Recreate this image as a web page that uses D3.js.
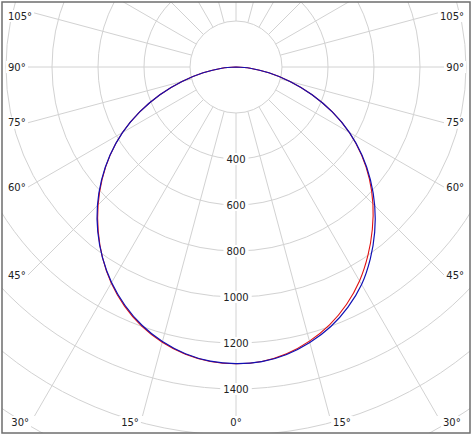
<!DOCTYPE html>
<html>
<head>
<meta charset="utf-8">
<script src="https://cdn.jsdelivr.net/npm/d3@7"></script>
<style>
  html, body { margin: 0; padding: 0; background: #fff; }
  svg { display: block; }
  text { font-family: "DejaVu Sans", Verdana, sans-serif; font-size: 10px; fill: #222; }
</style>
</head>
<body>
<svg id="chart" width="472" height="437"></svg>
<script>
// ---- data ----
const angles = [0, 5, 10, 15, 20, 25, 30, 35, 40, 45, 50, 55, 60, 65, 70, 75, 80, 85, 90];
const blueLeft  = [1290, 1284, 1266, 1236, 1195, 1143, 1082, 1012, 935, 852, 763, 669, 570, 462, 352, 243, 145, 62, 0];
const redLeft   = [1290, 1285, 1268, 1239, 1199, 1147, 1085, 1012, 932, 848, 760, 668, 570, 462, 352, 243, 145, 62, 0];
const blueRight = [1290, 1286, 1269, 1240, 1202, 1152, 1092, 1018, 938, 853, 763, 669, 570, 462, 352, 243, 145, 62, 0];
const redRight  = [1290, 1285, 1266, 1234, 1192, 1138, 1074, 1000, 922, 842, 757, 666, 569, 462, 352, 243, 145, 62, 0];
const ringValues = [200, 400, 600, 800, 1000, 1200, 1400, 1600, 1800, 2000];
const ringLabels = [400, 600, 800, 1000, 1200, 1400];
const spokeAngles = d3.range(0, 360, 15);
const angleLabels = [0, 15, 30, 45, 60, 75, 90, 105];

// ---- layout ----
const W = 472, H = 437;
const cx = 236, cy = 67;
const box = {x: 2, y: 2, w: 468, h: 431};
const spokeBox = {x0: 28, x1: 444, y0: 2, y1: 416};
const r = d3.scaleLinear().domain([0, 2000]).range([0, 460]);

const svg = d3.select("#chart");
const defs = svg.append("defs");
defs.append("clipPath").attr("id", "clipBox")
  .append("rect").attr("x", box.x).attr("y", box.y).attr("width", box.w).attr("height", box.h);
defs.append("clipPath").attr("id", "clipSpokes")
  .append("rect").attr("x", spokeBox.x0).attr("y", spokeBox.y0)
  .attr("width", spokeBox.x1 - spokeBox.x0).attr("height", spokeBox.y1 - spokeBox.y0);

const grid = svg.append("g").attr("clip-path", "url(#clipBox)");
const g = grid.append("g").attr("transform", `translate(${cx},${cy})`);

// rings
g.selectAll("circle.ring").data(ringValues).join("circle")
  .attr("class", "ring")
  .attr("r", d => r(d))
  .attr("fill", "none")
  .attr("stroke", "#d2d2d2")
  .attr("stroke-width", 1);

// spokes (angle measured from straight down)
const spokes = svg.append("g").attr("clip-path", "url(#clipSpokes)")
  .append("g").attr("transform", `translate(${cx},${cy})`);
spokes.selectAll("line").data(spokeAngles).join("line")
  .attr("x1", d => r(200) * Math.sin(d * Math.PI / 180))
  .attr("y1", d => r(200) * Math.cos(d * Math.PI / 180))
  .attr("x2", d => 900 * Math.sin(d * Math.PI / 180))
  .attr("y2", d => 900 * Math.cos(d * Math.PI / 180))
  .attr("stroke", "#d2d2d2")
  .attr("stroke-width", 1);

// ring labels along the 0° axis
const rl = svg.append("g");
ringLabels.forEach(v => {
  const y = cy + r(v);
  const t = rl.append("text").attr("x", cx).attr("y", y).attr("dy", "0.36em")
    .attr("text-anchor", "middle").text(v);
  const bb = t.node().getBBox();
  rl.insert("rect", "text").attr("x", bb.x - 3).attr("y", y - 6)
    .attr("width", bb.width + 6).attr("height", 12).attr("fill", "#fff");
});

// curves
const line = d3.lineRadial()
  .angle(d => d.a)
  .radius(d => r(d.v))
  .curve(d3.curveCatmullRom.alpha(0.5));

function buildCurve(left, right) {
  const pts = [];
  for (let i = angles.length - 1; i >= 0; i--) pts.push({a: Math.PI + angles[i] * Math.PI / 180, v: left[i]});
  for (let i = 1; i < angles.length; i++) pts.push({a: Math.PI - angles[i] * Math.PI / 180, v: right[i]});
  return pts;
}
const curves = svg.append("g").attr("transform", `translate(${cx},${cy})`);
curves.append("path").datum(buildCurve(redLeft, redRight))
  .attr("d", line).attr("fill", "none").attr("stroke", "#e01010").attr("stroke-width", 1.1);
curves.append("path").datum(buildCurve(blueLeft, blueRight))
  .attr("d", line).attr("fill", "none").attr("stroke", "#1010b4").attr("stroke-width", 1.2);

// angle labels
const al = svg.append("g");
function addLabel(x, y, anchor, txt) {
  const t = al.append("text").attr("x", x).attr("y", y).attr("dy", "0.36em")
    .attr("text-anchor", anchor).text(txt);
  const bb = t.node().getBBox();
  al.insert("rect", "text").attr("x", bb.x - 2).attr("y", y - 6)
    .attr("width", bb.width + 4).attr("height", 12).attr("fill", "#fff");
}
angleLabels.forEach(a => {
  const rad = a * Math.PI / 180;
  [-1, 1].forEach(side => {
    if (a === 0 && side === 1) return;
    const s = Math.sin(rad), c = Math.cos(rad);
    if (a === 0) { addLabel(cx, 422, "middle", a + "°"); return; }
    const xEdge = side < 0 ? spokeBox.x0 : spokeBox.x1;
    const t = Math.abs(xEdge - cx) / s;
    const yHit = cy + t * c;
    if (yHit <= 418) {
      const y = Math.max(16, yHit);
      if (side < 0) addLabel(8, y, "start", a + "°");
      else addLabel(464, y, "end", a + "°");
    } else {
      const tb = (422 - cy) / c;
      const xHit = cx + side * tb * s;
      if (side < 0) addLabel(xHit - 2, 422, "end", a + "°");
      else addLabel(xHit + 2, 422, "start", a + "°");
    }
  });
});

// frame
svg.append("rect").attr("x", box.x).attr("y", box.y).attr("width", box.w).attr("height", box.h)
  .attr("fill", "none").attr("stroke", "#6e6e6e").attr("stroke-width", 1.5);
</script>
</body>
</html>
